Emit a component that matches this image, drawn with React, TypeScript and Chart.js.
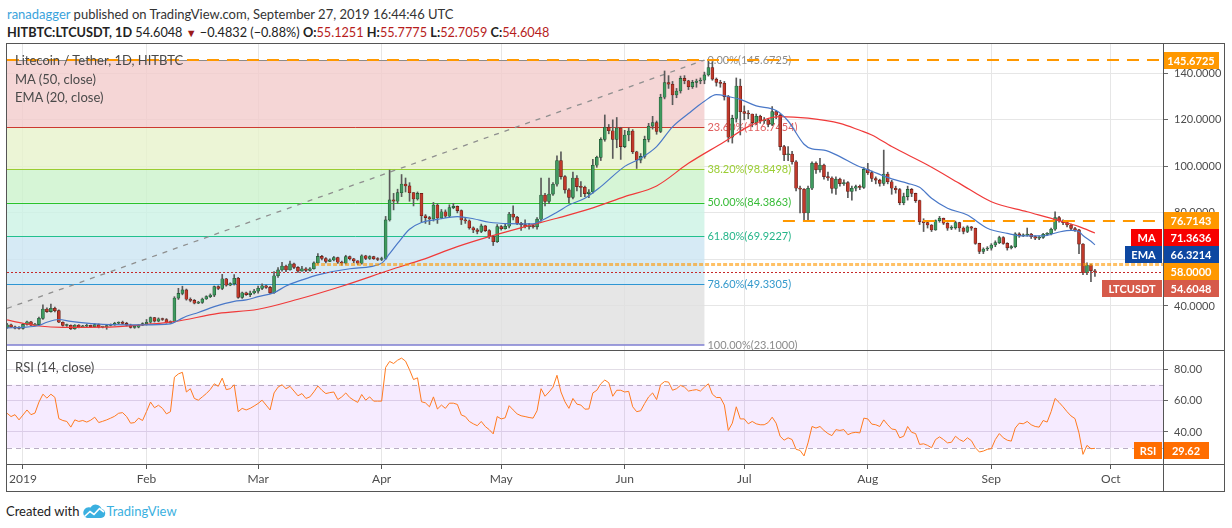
import React, { useEffect, useRef } from "react";
import { Chart, registerables } from "chart.js";

Chart.register(...registerables);

// ---------------- DATA ----------------
const FIRST_DAY = -4; // day index of first candle (0 = 2019-01-01)
const FIRST_OPEN = 30.8;

const CLOSE = [
  31.9, 31.0, 30.5, 30.4, 32.1, 33.2, 31.8, 32.0, 34.7, 38.7,
  37.6, 39.0, 38.0, 33.0, 31.6, 31.7, 30.2, 31.8, 31.0, 31.3,
  31.7, 31.1, 32.0, 30.9, 31.0, 31.6, 31.9, 32.6, 32.9, 32.5,
  31.8, 30.8, 30.9, 31.8, 32.4, 33.0, 35.0, 33.5, 34.5, 34.2,
  32.8, 33.3, 43.4, 45.4, 46.9, 42.9, 42.4, 41.2, 41.5, 43.0,
  44.0, 44.7, 48.3, 47.5, 51.7, 48.9, 49.6, 51.9, 43.7, 45.7,
  44.9, 45.6, 46.4, 47.6, 48.7, 48.0, 45.7, 53.0, 55.5, 57.2,
  55.5, 58.1, 56.6, 55.0, 56.0, 55.3, 56.0, 58.5, 61.3, 60.4,
  59.2, 59.8, 60.8, 58.8, 58.4, 61.2, 60.3, 59.4, 58.4, 61.6,
  60.4, 61.2, 60.3, 60.0, 60.4, 77.0, 85.6, 85.0, 88.7, 92.4,
  91.6, 88.7, 86.0, 88.4, 78.8, 78.0, 77.4, 83.4, 77.8, 80.5,
  78.6, 82.3, 82.8, 81.0, 77.0, 76.6, 73.6, 72.7, 72.0, 74.4,
  72.4, 69.8, 67.6, 74.1, 73.2, 74.3, 79.5, 78.2, 75.5, 75.0,
  74.1, 74.6, 74.0, 77.3, 87.7, 84.9, 88.1, 92.3, 102.5, 95.6,
  89.9, 86.7, 95.0, 91.3, 91.0, 88.3, 89.0, 100.5, 103.9, 111.6,
  116.8, 115.3, 111.6, 116.5, 108.5, 113.5, 115.2, 106.3, 102.7, 104.3,
  111.6, 117.3, 118.8, 115.0, 129.7, 136.0, 135.3, 130.7, 132.4, 137.8,
  136.8, 134.2, 136.1, 136.7, 137.0, 139.3, 142.5, 137.5, 136.1, 135.7,
  130.0, 112.5, 120.6, 134.5, 123.5, 122.8, 122.5, 118.8, 121.5, 119.5,
  120.0, 118.0, 123.5, 122.0, 108.5, 105.0, 105.3, 102.0, 90.6, 90.2,
  80.0, 90.6, 101.4, 98.5, 100.6, 95.6, 95.0, 90.5, 94.5, 92.6,
  93.0, 89.2, 90.6, 91.3, 91.0, 98.7, 97.3, 94.8, 94.1, 92.7,
  96.7, 93.4, 90.6, 90.0, 84.4, 87.0, 90.1, 88.4, 85.3, 76.2,
  75.8, 74.8, 72.7, 76.7, 77.7, 75.6, 73.4, 73.6, 75.8, 73.5,
  72.0, 74.0, 73.4, 66.9, 63.4, 64.5, 64.8, 66.2, 67.2, 69.4,
  66.9, 65.0, 65.5, 71.0, 70.2, 70.5, 70.9, 69.8, 69.1, 69.5,
  70.8, 71.0, 73.0, 78.0, 76.6, 75.8, 74.8, 73.3, 72.7, 66.6,
  54.3, 57.6, 55.1251, 54.6048,
];

const HIGH = [
  32.6, 32.2, 31.4, 31.2, 32.6, 33.5, 33.4, 32.6, 35.2, 40.5,
  39.2, 40.8, 39.5, 38.4, 33.2, 32.2, 31.9, 32.0, 32.0, 31.7,
  32.2, 31.8, 32.4, 32.3, 31.3, 31.9, 32.3, 33.0, 33.2, 33.5,
  33.0, 32.2, 31.3, 32.0, 32.8, 34.2, 35.3, 35.1, 34.9, 34.8,
  34.6, 33.6, 44.0, 47.6, 48.5, 47.3, 43.5, 42.8, 42.0, 43.4,
  44.4, 45.2, 48.6, 48.7, 53.6, 51.9, 50.0, 53.5, 52.3, 46.0,
  46.0, 46.4, 47.2, 48.6, 49.5, 49.0, 48.4, 54.8, 56.5, 58.8,
  57.6, 59.3, 58.4, 56.9, 57.0, 56.5, 56.5, 59.0, 62.5, 61.8,
  60.8, 60.3, 61.3, 61.0, 59.3, 61.8, 61.5, 60.5, 59.5, 62.0,
  61.8, 61.6, 61.4, 60.8, 61.0, 78.5, 98.4, 88.4, 90.2, 96.5,
  95.0, 93.0, 88.7, 89.0, 88.4, 79.3, 78.5, 84.5, 84.0, 81.5,
  81.3, 83.5, 84.1, 83.0, 81.3, 78.0, 77.0, 74.0, 73.3, 75.2,
  74.6, 72.8, 70.3, 75.0, 74.6, 75.5, 80.3, 83.0, 78.5, 76.0,
  77.0, 75.5, 75.0, 78.0, 95.0, 88.4, 95.0, 93.0, 104.5, 106.3,
  96.0, 90.5, 97.5, 96.0, 93.5, 91.5, 90.0, 103.0, 104.4, 112.3,
  122.1, 118.0, 120.0, 121.0, 116.8, 115.5, 116.5, 115.8, 106.5, 105.5,
  113.0, 118.5, 121.5, 119.5, 131.0, 141.0, 139.0, 136.5, 133.5, 138.8,
  139.0, 137.0, 137.0, 137.5, 138.0, 140.5, 145.67, 145.0, 138.0, 137.0,
  136.5, 130.5, 122.0, 138.0, 137.5, 126.0, 124.0, 122.5, 122.5, 122.0,
  121.0, 120.5, 125.7, 124.0, 122.5, 109.0, 108.5, 106.5, 102.5, 91.5,
  90.5, 91.5, 102.0, 102.0, 103.5, 101.0, 97.5, 95.5, 95.5, 95.0,
  94.2, 93.5, 91.5, 92.0, 92.0, 99.5, 101.3, 98.0, 95.5, 94.5,
  107.0, 97.5, 94.0, 91.5, 90.5, 88.5, 91.5, 90.5, 88.5, 85.5,
  77.5, 76.5, 75.0, 77.0, 78.5, 77.8, 75.8, 74.5, 76.5, 76.0,
  74.0, 74.5, 74.2, 73.5, 67.0, 65.0, 65.5, 66.8, 68.0, 70.0,
  69.8, 67.2, 66.0, 71.5, 71.5, 71.0, 73.5, 71.2, 70.2, 70.0,
  71.2, 71.5, 73.5, 80.5, 78.5, 77.0, 76.2, 75.2, 73.8, 73.0,
  66.8, 58.5, 58.0, 55.7775,
];

const LOW = [
  30.4, 30.8, 30.2, 30.0, 30.0, 31.8, 31.5, 31.4, 31.8, 34.2,
  37.2, 37.3, 37.5, 32.8, 31.3, 31.2, 29.9, 30.0, 30.6, 30.8,
  31.0, 30.8, 30.9, 30.6, 30.6, 30.0, 31.4, 31.7, 32.3, 32.2,
  31.4, 30.5, 30.4, 30.6, 31.6, 31.8, 32.6, 33.1, 33.2, 33.8,
  32.6, 32.5, 33.0, 42.8, 44.8, 42.5, 41.8, 40.9, 41.0, 41.1,
  42.8, 43.6, 44.0, 47.0, 47.0, 48.5, 48.7, 49.0, 43.3, 43.3,
  44.5, 44.0, 45.2, 45.5, 47.0, 47.6, 45.3, 45.4, 52.3, 55.0,
  54.8, 55.4, 56.0, 54.4, 55.0, 54.8, 55.0, 55.8, 58.0, 59.8,
  58.5, 59.0, 59.4, 58.3, 57.5, 58.0, 59.8, 58.6, 57.8, 58.0,
  59.9, 60.0, 60.0, 59.5, 59.5, 60.0, 76.5, 81.3, 84.0, 87.0,
  89.0, 85.0, 83.0, 85.5, 76.0, 75.5, 75.0, 76.5, 75.5, 77.5,
  78.0, 78.0, 81.8, 80.0, 75.0, 75.5, 73.0, 71.5, 71.0, 71.5,
  72.0, 69.0, 66.0, 67.3, 72.6, 73.0, 73.5, 77.0, 75.0, 72.5,
  73.5, 73.0, 73.4, 73.0, 76.5, 83.0, 84.0, 87.5, 91.5, 94.5,
  88.5, 84.4, 86.0, 89.5, 87.0, 87.0, 86.5, 88.5, 99.6, 102.5,
  110.8, 114.0, 103.4, 108.0, 103.0, 108.0, 111.0, 105.5, 99.1, 101.5,
  103.5, 110.5, 116.0, 113.8, 114.5, 129.0, 133.5, 126.5, 129.5, 131.5,
  135.5, 133.0, 133.5, 134.0, 135.5, 135.5, 138.8, 137.0, 134.5, 134.0,
  128.5, 110.5, 110.0, 119.0, 113.5, 120.0, 120.5, 117.0, 118.0, 118.5,
  118.5, 117.0, 117.5, 120.5, 107.0, 102.5, 102.5, 101.0, 89.5, 80.0,
  77.0, 77.0, 90.0, 97.0, 97.5, 94.5, 94.0, 88.5, 88.0, 91.5,
  91.8, 86.5, 85.5, 89.5, 90.0, 90.5, 96.5, 93.5, 92.5, 91.5,
  91.8, 92.5, 88.0, 88.5, 83.5, 83.5, 85.5, 87.0, 84.5, 75.0,
  72.0, 73.5, 72.0, 72.5, 76.0, 75.0, 72.5, 72.8, 73.0, 72.0,
  71.0, 71.5, 72.5, 66.5, 62.5, 62.5, 63.8, 64.0, 65.5, 66.8,
  66.5, 64.0, 64.5, 65.0, 69.5, 69.8, 70.0, 69.0, 68.5, 68.5,
  69.0, 70.3, 70.5, 72.5, 76.0, 75.0, 74.0, 72.5, 72.0, 62.5,
  53.5, 53.5, 50.5, 52.7059,
];

// [day, value]
const MA50 = [
  [-4, 34.0], [0, 32.6], [4, 31.4], [10, 30.8], [20, 30.9], [31, 32.1], [38, 33.3],
  [49, 36.8], [59, 38.6], [69, 42.9], [80, 48.5], [93, 56.0], [100, 59.8], [109, 65.5],
  [117, 69.8], [126, 74.1], [134, 77.7], [142, 81.6], [151, 87.0], [159, 91.6],
  [167, 101.3], [176, 110.6], [182, 117.1], [190, 121.4], [197, 120.7], [205, 118.5],
  [210, 115.5], [213, 113.5], [218, 108.5], [227, 100.6], [235, 92.7], [243, 84.8],
  [252, 80.5], [260, 76.7], [265, 74.1], [269, 71.3636],
];

const EMA20 = [
  [-4, 30.6], [0, 30.8], [4, 31.6], [6, 33.0], [9, 34.2], [12, 33.4], [16, 32.6],
  [20, 32.1], [30, 31.9], [37, 32.3], [39, 33.9], [41, 35.6], [44, 37.2], [48, 39.7],
  [53, 42.0], [56, 42.6], [59, 44.0], [63, 45.7], [66, 48.6], [70, 51.2], [74, 53.4],
  [82, 56.0], [90, 58.4], [92, 62.5], [94, 66.9], [97, 73.0], [100, 75.9], [104, 77.2],
  [109, 78.4], [113, 77.5], [117, 76.0], [122, 75.4], [128, 75.3], [130, 76.6],
  [134, 80.3], [137, 83.4], [141, 86.3], [145, 91.3], [151, 100.0], [155, 103.5],
  [159, 108.5], [163, 117.0], [167, 122.7], [171, 128.0], [174, 130.8], [177, 130.0],
  [180, 128.8], [184, 126.0], [189, 124.0], [192, 119.5], [196, 109.5], [198, 107.5],
  [201, 107.0], [205, 104.2], [209, 100.6], [213, 97.9], [218, 94.6], [222, 92.7],
  [225, 91.0], [228, 86.3], [232, 82.0], [237, 79.1], [242, 73.4], [247, 71.2],
  [251, 70.1], [256, 70.1], [260, 71.8], [263, 72.5], [265, 72.0], [266, 70.3],
  [268, 67.8], [269, 66.3214],
];

const RSI = [
  51.9, 49.8, 51.0, 47.7, 50.8, 54.0, 51.0, 52.0, 59.0, 64.0,
  61.5, 64.0, 62.0, 48.5, 47.3, 46.7, 43.1, 47.7, 46.7, 47.3,
  46.3, 47.5, 49.4, 46.0, 46.8, 47.7, 48.8, 50.0, 51.9, 52.3,
  49.8, 45.6, 46.0, 48.8, 47.3, 53.0, 59.0, 55.4, 57.0, 55.0,
  51.5, 52.9, 74.8, 76.9, 77.9, 65.4, 67.5, 61.3, 60.2, 62.3,
  64.4, 67.0, 70.6, 69.0, 74.2, 66.9, 67.5, 70.0, 52.9, 55.0,
  54.0, 55.0, 56.5, 58.1, 60.2, 57.1, 54.0, 64.8, 68.5, 70.0,
  67.5, 69.0, 66.0, 63.0, 64.4, 61.3, 62.3, 65.5, 69.2, 66.5,
  64.4, 65.0, 65.4, 60.6, 62.3, 64.8, 61.9, 60.2, 58.8, 63.8,
  60.2, 62.3, 59.6, 59.6, 59.6, 81.0, 84.8, 83.5, 85.6, 86.9,
  85.0, 79.5, 73.3, 74.4, 59.2, 58.5, 56.0, 62.3, 54.6, 57.1,
  55.0, 58.3, 58.3, 57.5, 50.8, 49.8, 46.7, 45.2, 44.0, 46.7,
  43.5, 41.5, 38.8, 49.8, 48.3, 49.0, 56.7, 54.0, 51.5, 50.3,
  49.8, 49.2, 48.8, 53.5, 67.5, 62.7, 65.4, 68.5, 76.0, 65.4,
  59.2, 55.0, 61.3, 57.7, 57.1, 54.5, 54.6, 64.8, 66.5, 70.6,
  73.0, 71.3, 62.7, 66.5, 66.5, 65.4, 65.8, 56.0, 52.9, 53.5,
  58.1, 62.3, 64.8, 60.6, 70.0, 72.0, 71.7, 66.5, 67.5, 69.6,
  68.5, 66.0, 66.5, 66.9, 66.0, 68.5, 70.6, 64.0, 61.9, 61.9,
  57.1, 41.0, 45.6, 56.0, 48.3, 48.3, 45.2, 46.7, 45.2, 44.6,
  44.6, 46.0, 49.4, 45.6, 37.3, 34.8, 36.3, 35.2, 29.0, 28.3,
  24.8, 33.1, 43.5, 42.5, 43.5, 41.0, 39.0, 37.7, 41.5, 41.0,
  41.5, 38.3, 39.4, 39.8, 39.4, 48.8, 48.3, 45.0, 44.6, 43.5,
  47.7, 44.6, 41.9, 41.5, 36.3, 37.3, 43.5, 39.8, 39.0, 32.1,
  32.5, 31.5, 30.0, 35.2, 36.9, 35.2, 33.1, 33.5, 37.3, 35.2,
  34.0, 36.3, 34.5, 30.0, 27.3, 27.9, 29.0, 29.4, 35.2, 39.0,
  36.3, 34.8, 34.2, 42.5, 45.6, 45.2, 46.7, 44.6, 43.5, 43.1,
  47.3, 46.3, 52.9, 61.3, 58.8, 56.0, 52.9, 50.2, 48.5, 39.4,
  25.8, 31.5, 29.4, 29.62,
];

const MONTH_DAYS = [0, 31, 59, 90, 120, 151, 181, 212, 243, 273];
const MONTH_LABELS = ["2019", "Feb", "Mar", "Apr", "May", "Jun", "Jul", "Aug", "Sep", "Oct"];
const PRICE_TICKS = [40, 60, 80, 100, 120, 140];
const RSI_TICKS = [40, 60, 80];
const RSI_BAND = [30, 70];

const FIB_RATIOS = [0, 23.6, 38.2, 50, 61.8, 78.6, 100];
const FIB_PRICES = [145.6725, 116.7454, 98.8498, 84.3863, 69.9227, 49.3305, 23.1];
const FIB_FROM_DAY = -30;
const FIB_TO_DAY = 171;

const RESIST_HIGH = 145.6725;
const RESIST_MID = 76.7143;
const RESIST_MID_FROM_DAY = 190.7;
const SUPPORT = 58.0;
const SUPPORT_FROM_DAY = 73.3;

const LAST = { open: 55.1251, high: 55.7775, low: 52.7059, close: 54.6048, change: -0.4832, pct: -0.88 };

// ---------------- LAYOUT / STYLE ----------------
const X_MIN = -4.015;
const X_MAX = 286.08;
const Y_MIN = 21.09;
const Y_MAX = 152.59;
const RSI_MIN = 19.68;
const RSI_MAX = 91.43;
const AXIS_W = 61;
const FONT = "Lato, 'Open Sans', sans-serif";
const GRID = "#e6e6e6";
const TXT = "#4d4d4d";

const ZONE_COLORS = [
  "rgba(242,204,204,0.8)",
  "rgba(231,242,204,0.8)",
  "rgba(204,242,204,0.8)",
  "rgba(204,242,229,0.8)",
  "rgba(204,229,242,0.8)",
  "rgba(224,224,224,0.8)",
];
const FIB_LINE_COLORS = ["#8c8c8c", "#cc3a30", "#9acd32", "#2ac42a", "#22c08e", "#2e96d3", "rgba(120,120,210,0.7)"];
const FIB_TEXT_COLORS = ["#8c8c8c", "#e06060", "#9acd32", "#36bb36", "#26b58a", "#3399cc", "#8c8c8c"];

const fmt4 = (v: number) => v.toFixed(4);

const DAYS = CLOSE.map((_, i) => FIRST_DAY + i);
const OPEN = CLOSE.map((_, i) => (i === 0 ? FIRST_OPEN : CLOSE[i - 1]));

function clipArea(ctx: CanvasRenderingContext2D, a: any) {
  ctx.beginPath();
  ctx.rect(a.left, a.top, a.right - a.left, a.bottom - a.top);
  ctx.clip();
}

function hLine(ctx: CanvasRenderingContext2D, y: number, x0: number, x1: number, color: string, w: number, dash: number[]) {
  ctx.beginPath();
  ctx.strokeStyle = color;
  ctx.lineWidth = w;
  ctx.setLineDash(dash);
  const yy = Math.round(y) + (w % 2 === 1 ? 0.5 : 0);
  ctx.moveTo(x0, yy);
  ctx.lineTo(x1, yy);
  ctx.stroke();
  ctx.setLineDash([]);
}

function drawBox(ctx: CanvasRenderingContext2D, x: number, top: number, w: number, h: number, bg: string, text: string) {
  ctx.fillStyle = bg;
  ctx.fillRect(x, top, w, h);
  ctx.fillStyle = "#ffffff";
  ctx.font = `bold 11px ${FONT}`;
  ctx.textAlign = "center";
  ctx.textBaseline = "middle";
  ctx.fillText(text, x + w / 2, top + h / 2 + 0.5);
}

const fibPlugin = {
  id: "fibZones",
  beforeDatasetsDraw(chart: any) {
    const { ctx, chartArea: a, scales } = chart;
    const x = scales.x;
    const y = scales.y;
    const x0 = Math.max(a.left, x.getPixelForValue(FIB_FROM_DAY));
    const x1 = x.getPixelForValue(FIB_TO_DAY);
    ctx.save();
    clipArea(ctx, a);
    for (let i = 0; i < FIB_PRICES.length - 1; i++) {
      const ya = y.getPixelForValue(FIB_PRICES[i]);
      const yb = y.getPixelForValue(FIB_PRICES[i + 1]);
      ctx.fillStyle = ZONE_COLORS[i];
      ctx.fillRect(x0, ya, x1 - x0, yb - ya);
    }
    for (let i = 0; i < FIB_PRICES.length; i++) {
      const yy = y.getPixelForValue(FIB_PRICES[i]);
      hLine(ctx, yy, x0, x1, FIB_LINE_COLORS[i], i === FIB_PRICES.length - 1 ? 2 : 1, []);
    }
    ctx.font = `11px ${FONT}`;
    ctx.textAlign = "left";
    ctx.textBaseline = "middle";
    for (let i = 0; i < FIB_PRICES.length; i++) {
      const yy = y.getPixelForValue(FIB_PRICES[i]);
      ctx.fillStyle = FIB_TEXT_COLORS[i];
      ctx.fillText(`${FIB_RATIOS[i].toFixed(2)}%(${fmt4(FIB_PRICES[i])})`, x1 + 3, yy);
    }
    ctx.restore();
  },
  afterDatasetsDraw(chart: any) {
    const { ctx, chartArea: a, scales } = chart;
    const x = scales.x;
    const y = scales.y;
    ctx.save();
    clipArea(ctx, a);
    hLine(ctx, y.getPixelForValue(SUPPORT), x.getPixelForValue(SUPPORT_FROM_DAY), a.right, "rgba(255,152,0,0.6)", 3, [4, 2]);
    hLine(ctx, y.getPixelForValue(LAST.close), a.left, a.right, "#c62828", 1, [2, 2]);
    hLine(ctx, y.getPixelForValue(RESIST_HIGH), a.left, a.right, "#ff9800", 2, [12, 8]);
    hLine(ctx, y.getPixelForValue(RESIST_MID), x.getPixelForValue(RESIST_MID_FROM_DAY), a.right, "#ff9800", 2, [12, 8]);
    ctx.restore();
  },
  afterDraw(chart: any) {
    const { ctx, chartArea: a, scales } = chart;
    const y = scales.y;
    const maLast = MA50[MA50.length - 1][1];
    const emaLast = EMA20[EMA20.length - 1][1];
    const boxes: any[] = [
      { v: RESIST_HIGH, bg: "#ff9800" },
      { v: RESIST_MID, bg: "#ff9800" },
      { v: maLast, bg: "#f70000", title: "MA" },
      { v: emaLast, bg: "#0d47a1", title: "EMA" },
      { v: SUPPORT, bg: "#ff9800" },
      { v: LAST.close, bg: "#d65a4a", title: "LTCUSDT" },
    ].sort((p, q) => q.v - p.v);
    const H = 17;
    let prevBottom = -1e9;
    ctx.save();
    ctx.font = `bold 11px ${FONT}`;
    for (const b of boxes) {
      const cy = Math.max(y.getPixelForValue(b.v), prevBottom + H / 2);
      const top = Math.round(cy - H / 2);
      prevBottom = top + H;
      drawBox(ctx, a.right, top, 56, H, b.bg, fmt4(b.v));
      if (b.title) {
        ctx.font = `bold 11px ${FONT}`;
        const w = Math.ceil(ctx.measureText(b.title).width) + 12;
        drawBox(ctx, a.right - 1 - w, top, w, H, b.bg, b.title);
      }
    }
    ctx.restore();
  },
};

const rsiPlugin = {
  id: "rsiBand",
  beforeDatasetsDraw(chart: any) {
    const { ctx, chartArea: a, scales } = chart;
    const y = scales.y;
    const yTop = y.getPixelForValue(RSI_BAND[1]);
    const yBot = y.getPixelForValue(RSI_BAND[0]);
    ctx.save();
    ctx.fillStyle = "rgba(153,21,255,0.085)";
    ctx.fillRect(a.left, yTop, a.right - a.left, yBot - yTop);
    hLine(ctx, yTop, a.left, a.right, "#b9adc4", 1, [5, 4]);
    hLine(ctx, yBot, a.left, a.right, "#b9adc4", 1, [5, 4]);
    ctx.restore();
  },
  afterDraw(chart: any) {
    const { ctx, chartArea: a, scales } = chart;
    const y = scales.y;
    const last = RSI[RSI.length - 1];
    const H = 17;
    const top = Math.round(y.getPixelForValue(last) - H / 2 + 2);
    ctx.save();
    drawBox(ctx, a.right, top, 46, H, "#ff6d00", last.toFixed(2));
    drawBox(ctx, a.right - 29, top, 28, H, "#ff6d00", "RSI");
    ctx.restore();
  },
};

function monthTicks(scale: any) {
  scale.ticks = MONTH_DAYS.map((v) => ({ value: v }));
}

export default function App() {
  const mainRef = useRef<HTMLCanvasElement>(null);
  const rsiRef = useRef<HTMLCanvasElement>(null);

  useEffect(() => {
    const upColor = "#3f9a5f";
    const downColor = "#c0392b";
    const bodyColors = DAYS.map((_, i) => (CLOSE[i] >= OPEN[i] ? upColor : downColor));
    const bodyBorders = DAYS.map((_, i) => (CLOSE[i] >= OPEN[i] ? "#1f4d2f" : "#5e1a14"));

    const main = new Chart(mainRef.current as HTMLCanvasElement, {
      type: "bar",
      data: {
        datasets: [
          {
            type: "line",
            data: [
              { x: FIB_FROM_DAY, y: FIB_PRICES[FIB_PRICES.length - 1] },
              { x: FIB_TO_DAY, y: FIB_PRICES[0] },
            ],
            borderColor: "#8f8f8f",
            borderWidth: 1.3,
            borderDash: [5, 6],
            pointRadius: 0,
            order: 10,
          } as any,
          {
            type: "bar",
            data: DAYS.map((d, i) => ({
              x: d,
              y: [Math.min(LOW[i], OPEN[i], CLOSE[i]), Math.max(HIGH[i], OPEN[i], CLOSE[i])],
            })),
            backgroundColor: "#5a5a5a",
            barThickness: 1,
            grouped: false,
            order: 4,
          } as any,
          {
            type: "bar",
            data: DAYS.map((d, i) => ({ x: d, y: [OPEN[i], CLOSE[i]] })),
            backgroundColor: bodyColors,
            borderColor: bodyBorders,
            borderWidth: 0.6,
            borderSkipped: false,
            barThickness: 3,
            minBarLength: 1,
            grouped: false,
            order: 3,
          } as any,
          {
            type: "line",
            data: MA50.map(([d, v]) => ({ x: d, y: v })),
            borderColor: "#f03a3a",
            borderWidth: 1.2,
            pointRadius: 0,
            cubicInterpolationMode: "monotone",
            order: 2,
          } as any,
          {
            type: "line",
            data: EMA20.map(([d, v]) => ({ x: d, y: v })),
            borderColor: "#4a78c8",
            borderWidth: 1.2,
            pointRadius: 0,
            cubicInterpolationMode: "monotone",
            order: 1,
          } as any,
        ],
      },
      options: {
        responsive: false,
        animation: false,
        events: [],
        layout: { padding: 0 },
        plugins: { legend: { display: false }, tooltip: { enabled: false } },
        scales: {
          x: {
            type: "linear",
            min: X_MIN,
            max: X_MAX,
            offset: false,
            afterBuildTicks: monthTicks,
            afterFit: (s: any) => {
              s.height = 0;
              s.paddingLeft = 0;
              s.paddingRight = 0;
            },
            ticks: { display: false },
            grid: { color: GRID, drawTicks: false, offset: false },
            border: { display: false },
          },
          y: {
            type: "linear",
            position: "right",
            min: Y_MIN,
            max: Y_MAX,
            afterBuildTicks: (s: any) => {
              s.ticks = PRICE_TICKS.map((v) => ({ value: v }));
            },
            afterFit: (s: any) => {
              s.width = AXIS_W;
              s.paddingTop = 0;
              s.paddingBottom = 0;
            },
            ticks: {
              callback: (v: any) => Number(v).toFixed(4),
              color: TXT,
              font: { family: FONT, size: 11 },
              padding: 6,
            },
            grid: { color: GRID, tickColor: "#666", tickLength: 5 },
            border: { display: false },
          },
        },
      } as any,
      plugins: [fibPlugin],
    });

    const rsi = new Chart(rsiRef.current as HTMLCanvasElement, {
      type: "line",
      data: {
        datasets: [
          {
            data: RSI.map((v, i) => ({ x: FIRST_DAY + i, y: v })),
            borderColor: "#ff7a1f",
            borderWidth: 1,
            pointRadius: 0,
            tension: 0,
          },
        ],
      },
      options: {
        responsive: false,
        animation: false,
        events: [],
        layout: { padding: 0 },
        plugins: { legend: { display: false }, tooltip: { enabled: false } },
        scales: {
          x: {
            type: "linear",
            min: X_MIN,
            max: X_MAX,
            offset: false,
            afterBuildTicks: monthTicks,
            afterFit: (s: any) => {
              s.height = 27;
              s.paddingLeft = 0;
              s.paddingRight = 0;
            },
            ticks: {
              callback: (v: any) => MONTH_LABELS[MONTH_DAYS.indexOf(Number(v))],
              color: TXT,
              font: { family: FONT, size: 12 },
              autoSkip: false,
              maxRotation: 0,
              padding: 3,
            },
            grid: { color: GRID, tickColor: "#555", tickLength: 5 },
            border: { display: false },
          },
          y: {
            type: "linear",
            position: "right",
            min: RSI_MIN,
            max: RSI_MAX,
            afterBuildTicks: (s: any) => {
              s.ticks = RSI_TICKS.map((v) => ({ value: v }));
            },
            afterFit: (s: any) => {
              s.width = AXIS_W;
              s.paddingTop = 0;
              s.paddingBottom = 0;
            },
            ticks: {
              callback: (v: any) => Number(v).toFixed(2),
              color: TXT,
              font: { family: FONT, size: 11 },
              padding: 6,
            },
            grid: { color: "#e2dde6", tickColor: "#666", tickLength: 5 },
            border: { display: false },
          },
        },
      } as any,
      plugins: [rsiPlugin],
    });

    return () => {
      main.destroy();
      rsi.destroy();
    };
  }, []);

  const frame = "#555555";
  const line = (l: number, t: number, w: number, h: number) => (
    <div style={{ position: "absolute", left: l, top: t, width: w, height: h, background: frame }} />
  );
  const red = { color: "#b71c1c" };
  const neg = (v: number) => (v < 0 ? "\u2212" : "+") + Math.abs(v).toFixed(4);
  const negPct = (v: number) => (v < 0 ? "\u2212" : "+") + Math.abs(v).toFixed(2) + "%";

  return (
    <div
      style={{
        position: "absolute",
        left: 0,
        top: 0,
        width: 1232,
        height: 528,
        background: "#ffffff",
        fontFamily: FONT,
        overflow: "hidden",
      }}
    >
      <div style={{ position: "absolute", left: 7, top: 5, fontSize: 13, lineHeight: "18px", color: "#333", whiteSpace: "nowrap" }}>
        <span style={{ color: "#3aa3dc" }}>ranadagger</span> published on TradingView.com, September 27, 2019 16:44:46 UTC
      </div>
      <div style={{ position: "absolute", left: 7, top: 23, fontSize: 12.7, lineHeight: "18px", color: "#222", whiteSpace: "nowrap" }}>
        <b>HITBTC:LTCUSDT, 1D</b> {fmt4(LAST.close)} <span style={{ color: "#9a1b1b", fontSize: 11 }}>▼</span> {neg(LAST.change)} ({negPct(LAST.pct)}){" "}
        <b>O:</b>
        <span style={red}>{fmt4(LAST.open)}</span> <b>H:</b>
        <span style={red}>{fmt4(LAST.high)}</span> <b>L:</b>
        <span style={red}>{fmt4(LAST.low)}</span> <b>C:</b>
        <span style={red}>{fmt4(LAST.close)}</span>
      </div>

      <canvas ref={mainRef} width={1217} height={306} style={{ position: "absolute", left: 7, top: 44, width: 1217, height: 306 }} />
      <canvas ref={rsiRef} width={1217} height={140} style={{ position: "absolute", left: 7, top: 351, width: 1217, height: 140 }} />

      <div style={{ position: "absolute", left: 15, top: 51, fontSize: 13, lineHeight: "18px", color: "#4a4a4a", whiteSpace: "nowrap" }}>
        Litecoin / Tether, 1D, HITBTC
      </div>
      <div style={{ position: "absolute", left: 15, top: 70, fontSize: 13, lineHeight: "18px", color: "#4a4a4a", whiteSpace: "nowrap" }}>
        MA (50, close)
      </div>
      <div style={{ position: "absolute", left: 15, top: 88, fontSize: 13, lineHeight: "18px", color: "#4a4a4a", whiteSpace: "nowrap" }}>
        EMA (20, close)
      </div>
      <div style={{ position: "absolute", left: 15, top: 358, fontSize: 13, lineHeight: "18px", color: "#4a4a4a", whiteSpace: "nowrap" }}>
        RSI (14, close)
      </div>

      {line(6, 43, 1219, 1)}
      {line(6, 350, 1219, 1)}
      {line(6, 464, 1219, 1)}
      {line(6, 491, 1219, 1)}
      {line(6, 43, 1, 449)}
      {line(1224, 43, 1, 449)}
      {line(1163, 43, 1, 449)}

      <div style={{ position: "absolute", left: 6, top: 501, fontSize: 13, lineHeight: "20px", color: "#222", whiteSpace: "nowrap", display: "flex", alignItems: "center" }}>
        <span>Created with</span>
        <svg width="24" height="16" viewBox="0 0 24 16" style={{ marginLeft: 3, marginRight: 0 }}>
          <path d="M5 15 H19 A4.5 4.5 0 0 0 19.6 6.1 A6 6 0 0 0 8.6 4.6 A5.2 5.2 0 0 0 5 15 Z" fill="#3bb0e0" />
          <polyline points="2.5,13.5 8,8.5 12,11.5 17.5,5.5 22,9" stroke="#ffffff" strokeWidth="1.6" fill="none" />
        </svg>
        <span style={{ color: "#3bb0e0" }}>TradingView</span>
      </div>
    </div>
  );
}
